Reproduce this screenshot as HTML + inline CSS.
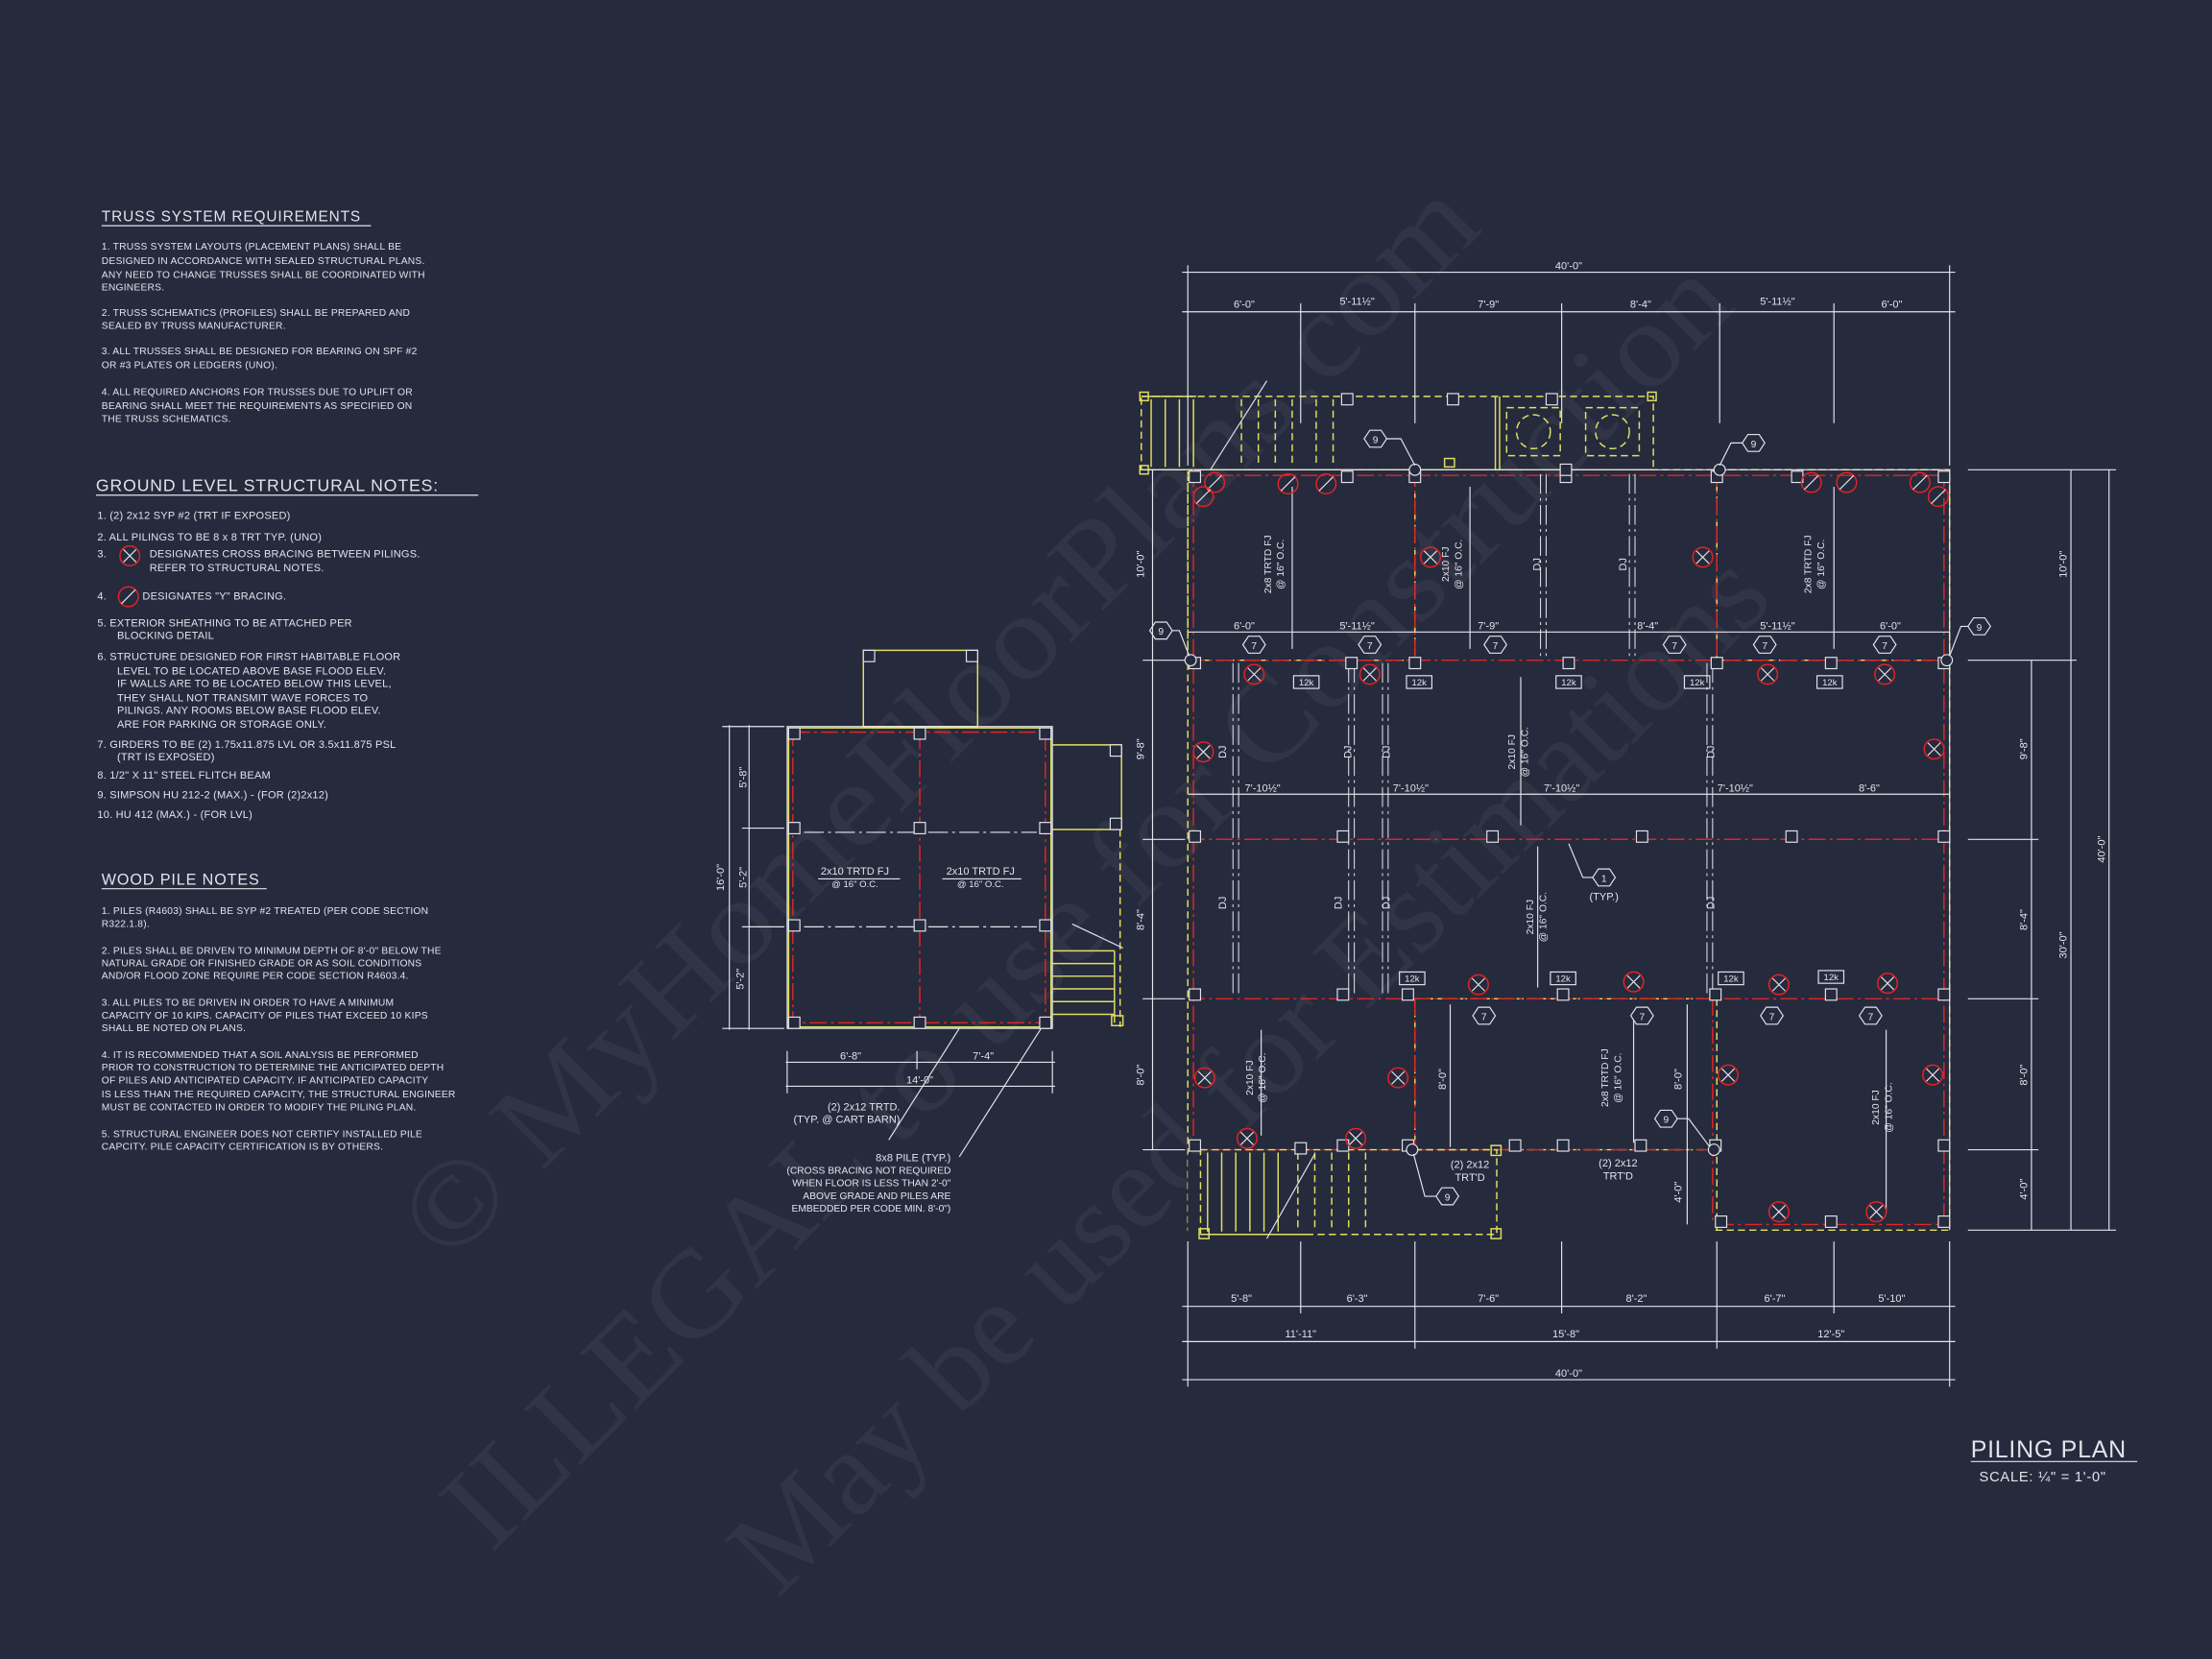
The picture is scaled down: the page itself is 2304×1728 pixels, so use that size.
<!DOCTYPE html>
<html><head><meta charset="utf-8"><style>
html,body{margin:0;padding:0;background:#262a3d;}
svg{display:block}
text{font-family:"Liberation Sans",sans-serif;fill:#e2e3ea;}
.n{font-size:7px;letter-spacing:0.15px}
.h{font-size:11.5px;letter-spacing:0.6px}
.d{font-size:7.5px}
.w{stroke:#e2e3ea;stroke-width:0.8;fill:none}
.wd{stroke:#e2e3ea;stroke-width:0.8;fill:none;stroke-dasharray:14 3 2 3}
.y{stroke:#e0e060;stroke-width:1;fill:none}
.yd{stroke:#e0e060;stroke-width:1;fill:none;stroke-dasharray:5 3}
.r{stroke:#e22424;stroke-width:1;fill:none;stroke-dasharray:12 3 2 3}
.wm{font-family:"Liberation Serif",serif;fill:#ffffff;fill-opacity:0.05;font-size:86px}
</style></head><body>
<svg width="2304" height="1728" viewBox="0 0 1568 1176" xmlns="http://www.w3.org/2000/svg">
<defs>
<rect id="p" x="-4" y="-4" width="8" height="8" fill="#262a3d" stroke="#e2e3ea" stroke-width="0.8"/>
<g id="x"><circle r="7" fill="none" stroke="#e22424" stroke-width="1"/><path d="M-4.5-4.5L4.5 4.5M4.5-4.5L-4.5 4.5" stroke="#e2e3ea" stroke-width="0.8"/></g>
<g id="s"><circle r="7" fill="none" stroke="#e22424" stroke-width="1"/><path d="M-5 5L5-5" stroke="#e2e3ea" stroke-width="0.8"/></g>
<polygon id="hx" points="-8,0 -4,-6 4,-6 8,0 4,6 -4,6" fill="#262a3d" stroke="#e2e3ea" stroke-width="0.8"/>
</defs>
<rect width="1568" height="1176" fill="#262a3d"/>
<!-- watermark -->
<text class="wm" transform="translate(685,530) rotate(-45)" text-anchor="middle" textLength="1040" lengthAdjust="spacingAndGlyphs">© MyHomeFloorPlans.com</text>
<text class="wm" transform="translate(790,660) rotate(-45)" text-anchor="middle" textLength="1250" lengthAdjust="spacingAndGlyphs">ILLEGAL to use for Construction</text>
<text class="wm" transform="translate(905,780) rotate(-45)" text-anchor="middle" textLength="1000" lengthAdjust="spacingAndGlyphs">May be used for Estimations</text>

<!-- LEFT NOTES -->
<text class="h" x="72" y="157" style="font-size:10.5px">TRUSS SYSTEM REQUIREMENTS</text>
<line class="w" x1="72" y1="160" x2="263" y2="160"/>
<g class="n">
<text x="72" y="177">1. TRUSS SYSTEM LAYOUTS (PLACEMENT PLANS) SHALL BE</text>
<text x="72" y="187">DESIGNED IN ACCORDANCE WITH SEALED STRUCTURAL PLANS.</text>
<text x="72" y="197">ANY NEED TO CHANGE TRUSSES SHALL BE COORDINATED WITH</text>
<text x="72" y="206">ENGINEERS.</text>
<text x="72" y="224">2. TRUSS SCHEMATICS (PROFILES) SHALL BE PREPARED AND</text>
<text x="72" y="233">SEALED BY TRUSS MANUFACTURER.</text>
<text x="72" y="251">3. ALL TRUSSES SHALL BE DESIGNED FOR BEARING ON SPF #2</text>
<text x="72" y="261">OR #3 PLATES OR LEDGERS (UNO).</text>
<text x="72" y="280">4. ALL REQUIRED ANCHORS FOR TRUSSES DUE TO UPLIFT OR</text>
<text x="72" y="290">BEARING SHALL MEET THE REQUIREMENTS AS SPECIFIED ON</text>
<text x="72" y="299">THE TRUSS SCHEMATICS.</text>
</g>
<text class="h" x="68" y="348" style="font-size:12px">GROUND LEVEL STRUCTURAL NOTES:</text>
<line class="w" x1="68" y1="351" x2="339" y2="351"/>
<g class="n" style="font-size:7.5px">
<text x="69" y="368">1.  (2) 2x12 SYP #2 (TRT IF EXPOSED)</text>
<text x="69" y="383">2.  ALL PILINGS TO BE 8 x 8 TRT TYP. (UNO)</text>
<text x="69" y="395">3.</text><use href="#x" x="92" y="394"/>
<text x="106" y="395">DESIGNATES CROSS BRACING BETWEEN PILINGS.</text>
<text x="106" y="405">REFER TO STRUCTURAL NOTES.</text>
<text x="69" y="425">4.</text><use href="#s" x="91" y="423"/>
<text x="101" y="425">DESIGNATES "Y" BRACING.</text>
<text x="69" y="444">5. EXTERIOR SHEATHING TO BE ATTACHED PER</text>
<text x="83" y="453">BLOCKING DETAIL</text>
<text x="69" y="468">6. STRUCTURE DESIGNED FOR FIRST HABITABLE FLOOR</text>
<text x="83" y="478">LEVEL TO BE LOCATED ABOVE BASE FLOOD ELEV.</text>
<text x="83" y="487">IF WALLS ARE TO BE LOCATED BELOW THIS LEVEL,</text>
<text x="83" y="497">THEY SHALL NOT TRANSMIT WAVE FORCES TO</text>
<text x="83" y="506">PILINGS.  ANY ROOMS BELOW BASE FLOOD ELEV.</text>
<text x="83" y="516">ARE FOR PARKING OR STORAGE ONLY.</text>
<text x="69" y="530">7. GIRDERS TO BE (2) 1.75x11.875 LVL OR 3.5x11.875 PSL</text>
<text x="83" y="539">(TRT IS EXPOSED)</text>
<text x="69" y="552">8. 1/2" X 11" STEEL FLITCH BEAM</text>
<text x="69" y="566">9. SIMPSON HU 212-2 (MAX.) - (FOR (2)2x12)</text>
<text x="69" y="580">10. HU 412 (MAX.) - (FOR LVL)</text>
</g>
<text class="h" x="72" y="627" style="font-size:11px">WOOD PILE NOTES</text>
<line class="w" x1="72" y1="630" x2="189" y2="630"/>
<g class="n">
<text x="72" y="648">1. PILES (R4603) SHALL BE SYP #2 TREATED (PER CODE SECTION</text>
<text x="72" y="657">R322.1.8).</text>
<text x="72" y="676">2. PILES SHALL BE DRIVEN TO MINIMUM DEPTH OF 8'-0" BELOW THE</text>
<text x="72" y="685">NATURAL GRADE OR FINISHED GRADE OR AS SOIL CONDITIONS</text>
<text x="72" y="694">AND/OR FLOOD ZONE REQUIRE PER CODE SECTION R4603.4.</text>
<text x="72" y="713">3. ALL PILES TO BE DRIVEN IN ORDER TO HAVE A MINIMUM</text>
<text x="72" y="722">CAPACITY OF 10 KIPS. CAPACITY OF PILES THAT EXCEED 10 KIPS</text>
<text x="72" y="731">SHALL BE NOTED ON PLANS.</text>
<text x="72" y="750">4. IT IS RECOMMENDED THAT A SOIL ANALYSIS BE PERFORMED</text>
<text x="72" y="759">PRIOR TO CONSTRUCTION TO DETERMINE THE ANTICIPATED DEPTH</text>
<text x="72" y="768">OF PILES AND ANTICIPATED CAPACITY. IF ANTICIPATED CAPACITY</text>
<text x="72" y="778">IS LESS THAN THE REQUIRED CAPACITY, THE STRUCTURAL ENGINEER</text>
<text x="72" y="787">MUST BE CONTACTED IN ORDER TO MODIFY THE PILING PLAN.</text>
<text x="72" y="806">5. STRUCTURAL ENGINEER DOES NOT CERTIFY INSTALLED PILE</text>
<text x="72" y="815">CAPCITY. PILE CAPACITY CERTIFICATION IS BY OTHERS.</text>
</g>

<!-- CART BARN -->
<rect class="y" x="612" y="461" width="81" height="54"/>
<use href="#p" x="616" y="465"/><use href="#p" x="689" y="465"/>
<rect class="w" x="558" y="515" width="188" height="214"/>
<rect class="y" x="559" y="516" width="186" height="212"/>
<rect class="r" x="562" y="519" width="179" height="206"/>
<line class="r" x1="652" y1="519" x2="652" y2="725"/>
<line class="wd" x1="570" y1="590" x2="735" y2="590"/>
<line class="wd" x1="570" y1="657" x2="735" y2="657"/>
<g><use href="#p" x="563" y="520"/><use href="#p" x="652" y="520"/><use href="#p" x="741" y="520"/>
<use href="#p" x="563" y="587"/><use href="#p" x="652" y="587"/><use href="#p" x="741" y="587"/>
<use href="#p" x="563" y="656"/><use href="#p" x="652" y="656"/><use href="#p" x="741" y="656"/>
<use href="#p" x="563" y="725"/><use href="#p" x="652" y="725"/><use href="#p" x="741" y="725"/></g>
<polyline class="y" points="746,528 795,528 795,588 746,588"/>
<use href="#p" x="791" y="532"/><use href="#p" x="791" y="584"/>
<line class="yd" x1="794" y1="588" x2="794" y2="728"/>
<g class="y"><line x1="746" y1="674" x2="790" y2="674"/><line x1="746" y1="683" x2="790" y2="683"/><line x1="746" y1="692" x2="790" y2="692"/><line x1="746" y1="701" x2="790" y2="701"/><line x1="746" y1="710" x2="790" y2="710"/><line x1="746" y1="719" x2="790" y2="719"/><line x1="790" y1="674" x2="790" y2="725"/></g>
<rect class="y" x="788" y="720" width="8" height="7"/>
<line class="w" x1="760" y1="655" x2="796" y2="672"/>
<g class="d"><text x="606" y="620" text-anchor="middle">2x10 TRTD FJ</text><text x="606" y="629" text-anchor="middle" style="font-size:6.5px">@ 16" O.C.</text>
<text x="695" y="620" text-anchor="middle">2x10 TRTD FJ</text><text x="695" y="629" text-anchor="middle" style="font-size:6.5px">@ 16" O.C.</text></g>
<line class="w" x1="580" y1="623" x2="638" y2="623"/><line class="w" x1="668" y1="623" x2="724" y2="623"/>
<g class="w"><line x1="557" y1="753" x2="748" y2="753"/><line x1="557" y1="770" x2="748" y2="770"/>
<line x1="558" y1="745" x2="558" y2="775"/><line x1="650" y1="745" x2="650" y2="758"/><line x1="746" y1="745" x2="746" y2="775"/>
<line x1="517" y1="514" x2="517" y2="730"/><line x1="531" y1="514" x2="531" y2="730"/>
<line x1="512" y1="515" x2="556" y2="515"/><line x1="526" y1="587" x2="556" y2="587"/><line x1="526" y1="657" x2="556" y2="657"/><line x1="512" y1="729" x2="556" y2="729"/>
<line x1="680" y1="729" x2="630" y2="808"/><line x1="738" y1="729" x2="680" y2="820"/></g>
<g class="d"><text x="603" y="751" text-anchor="middle">6'-8"</text><text x="697" y="751" text-anchor="middle">7'-4"</text><text x="652" y="768" text-anchor="middle">14'-0"</text>
<text transform="translate(513,622) rotate(-90)" text-anchor="middle">16'-0"</text>
<text transform="translate(529,551) rotate(-90)" text-anchor="middle">5'-8"</text>
<text transform="translate(529,622) rotate(-90)" text-anchor="middle">5'-2"</text>
<text transform="translate(527,694) rotate(-90)" text-anchor="middle">5'-2"</text>
<text x="638" y="787" text-anchor="end">(2) 2x12 TRTD.</text><text x="638" y="796" text-anchor="end">(TYP. @ CART BARN)</text>
<text x="674" y="823" text-anchor="end">8x8 PILE (TYP.)</text>
<text x="674" y="832" text-anchor="end" style="font-size:7px">(CROSS BRACING NOT REQUIRED</text>
<text x="674" y="841" text-anchor="end" style="font-size:7px">WHEN FLOOR IS LESS THAN 2'-0"</text>
<text x="674" y="850" text-anchor="end" style="font-size:7px">ABOVE GRADE AND PILES ARE</text>
<text x="674" y="859" text-anchor="end" style="font-size:7px">EMBEDDED PER CODE MIN. 8'-0")</text></g>

<!-- MAIN PLAN: top deck -->
<rect class="yd" x="809" y="281" width="363" height="52"/>
<g class="y"><line x1="809" y1="281" x2="848" y2="281"/><line x1="809" y1="333" x2="848" y2="333"/>
<line x1="816" y1="283" x2="816" y2="331"/><line x1="826" y1="283" x2="826" y2="331"/><line x1="836" y1="283" x2="836" y2="331"/><line x1="846" y1="283" x2="846" y2="331"/>
<line x1="1060" y1="281" x2="1060" y2="333"/><line x1="1063" y1="281" x2="1063" y2="333"/></g>
<g class="yd"><line x1="880" y1="283" x2="880" y2="331"/><line x1="892" y1="283" x2="892" y2="331"/><line x1="904" y1="283" x2="904" y2="331"/><line x1="916" y1="283" x2="916" y2="331"/><line x1="933" y1="283" x2="933" y2="331"/><line x1="945" y1="283" x2="945" y2="331"/>
<rect x="1068" y="289" width="38" height="34"/><circle cx="1087" cy="306" r="12"/>
<rect x="1124" y="289" width="38" height="34"/><circle cx="1143" cy="306" r="12"/></g>
<rect class="y" x="808" y="278" width="6" height="6"/><rect class="y" x="808" y="330" width="6" height="6"/><rect class="y" x="1168" y="278" width="6" height="6"/>
<rect class="y" x="1024" y="325" width="7" height="6"/>
<line class="w" x1="858" y1="333" x2="898" y2="270"/>

<g class="yd"><rect x="842" y="333" width="540" height="539"/><rect x="842" y="333" width="161" height="135"/><rect x="1217" y="333" width="165" height="135"/>
<line x1="1003" y1="708" x2="1003" y2="815"/><line x1="1217" y1="708" x2="1217" y2="872"/><line x1="1003" y1="815" x2="1217" y2="815"/><line x1="1003" y1="708" x2="1217" y2="708"/></g>
<rect x="1000" y="818" width="214" height="56" fill="#262a3d"/>
<rect x="842" y="818" width="158" height="56" fill="#262a3d"/>
<line class="w" x1="842" y1="333" x2="1382" y2="333"/><line class="w" x1="1382" y1="333" x2="1382" y2="872"/>
<g class="r"><line x1="842" y1="337" x2="1382" y2="337"/><line x1="842" y1="468" x2="1382" y2="468"/><line x1="842" y1="595" x2="1382" y2="595"/><line x1="842" y1="708" x2="1382" y2="708"/>
<line x1="842" y1="815" x2="1217" y2="815"/><line x1="1217" y1="868" x2="1382" y2="868"/>
<line x1="846" y1="333" x2="846" y2="815"/><line x1="1003" y1="333" x2="1003" y2="468"/><line x1="1217" y1="333" x2="1217" y2="468"/><line x1="1003" y1="708" x2="1003" y2="815"/><line x1="1214" y1="708" x2="1214" y2="868"/><line x1="1378" y1="333" x2="1378" y2="868"/></g>
<rect class="yd" x="851" y="815" width="210" height="60"/>
<g class="y"><line x1="851" y1="875" x2="930" y2="875"/><line x1="856" y1="817" x2="856" y2="873"/><line x1="866" y1="817" x2="866" y2="873"/><line x1="876" y1="817" x2="876" y2="873"/><line x1="886" y1="817" x2="886" y2="873"/><line x1="896" y1="817" x2="896" y2="873"/><line x1="906" y1="817" x2="906" y2="873"/></g>
<g class="yd"><line x1="920" y1="817" x2="920" y2="873"/><line x1="932" y1="817" x2="932" y2="873"/><line x1="944" y1="817" x2="944" y2="873"/><line x1="956" y1="817" x2="956" y2="873"/><line x1="968" y1="817" x2="968" y2="873"/></g>
<rect class="y" x="850" y="871" width="7" height="7"/><rect class="y" x="1057" y="871" width="7" height="7"/><rect class="y" x="1057" y="812" width="7" height="7"/>
<line class="w" x1="898" y1="878" x2="932" y2="818"/>

<g class="wd" style="stroke-width:0.7"><line x1="874" y1="470" x2="874" y2="706"/><line x1="878" y1="470" x2="878" y2="706"/>
<line x1="956" y1="470" x2="956" y2="706"/><line x1="960" y1="470" x2="960" y2="706"/><line x1="980" y1="470" x2="980" y2="706"/><line x1="984" y1="470" x2="984" y2="706"/>
<line x1="1210" y1="470" x2="1210" y2="706"/><line x1="1214" y1="470" x2="1214" y2="706"/>
<line x1="1092" y1="336" x2="1092" y2="466"/><line x1="1096" y1="336" x2="1096" y2="466"/><line x1="1155" y1="336" x2="1155" y2="466"/><line x1="1159" y1="336" x2="1159" y2="466"/></g>
<g class="d"><text transform="translate(869,640) rotate(-90)" text-anchor="middle">DJ</text><text transform="translate(951,640) rotate(-90)" text-anchor="middle">DJ</text><text transform="translate(985,640) rotate(-90)" text-anchor="middle">DJ</text><text transform="translate(1215,640) rotate(-90)" text-anchor="middle">DJ</text>
<text transform="translate(869,533) rotate(-90)" text-anchor="middle">DJ</text><text transform="translate(958,533) rotate(-90)" text-anchor="middle">DJ</text><text transform="translate(985,533) rotate(-90)" text-anchor="middle">DJ</text><text transform="translate(1215,533) rotate(-90)" text-anchor="middle">DJ</text>
<text transform="translate(1092,400) rotate(-90)" text-anchor="middle">DJ</text><text transform="translate(1153,400) rotate(-90)" text-anchor="middle">DJ</text></g>
<g class="w"><line x1="916" y1="345" x2="916" y2="460"/><line x1="1042" y1="345" x2="1042" y2="460"/><line x1="1300" y1="345" x2="1300" y2="460"/>
<line x1="1078" y1="480" x2="1078" y2="585"/><line x1="1090" y1="600" x2="1090" y2="700"/><line x1="894" y1="730" x2="894" y2="805"/><line x1="1158" y1="720" x2="1158" y2="810"/><line x1="1337" y1="730" x2="1337" y2="860"/></g>
<g class="d" style="font-size:7px">
<text transform="translate(901,400) rotate(-90)" text-anchor="middle">2x8 TRTD FJ</text><text transform="translate(910,400) rotate(-90)" text-anchor="middle">@ 16" O.C.</text>
<text transform="translate(1027,400) rotate(-90)" text-anchor="middle">2x10 FJ</text><text transform="translate(1036,400) rotate(-90)" text-anchor="middle">@ 16" O.C.</text>
<text transform="translate(1284,400) rotate(-90)" text-anchor="middle">2x8 TRTD FJ</text><text transform="translate(1293,400) rotate(-90)" text-anchor="middle">@ 16" O.C.</text>
<text transform="translate(1074,533) rotate(-90)" text-anchor="middle">2x10 FJ</text><text transform="translate(1083,533) rotate(-90)" text-anchor="middle">@ 16" O.C.</text>
<text transform="translate(1087,650) rotate(-90)" text-anchor="middle">2x10 FJ</text><text transform="translate(1096,650) rotate(-90)" text-anchor="middle">@ 16" O.C.</text>
<text transform="translate(888,764) rotate(-90)" text-anchor="middle">2x10 FJ</text><text transform="translate(897,764) rotate(-90)" text-anchor="middle">@ 16" O.C.</text>
<text transform="translate(1140,764) rotate(-90)" text-anchor="middle">2x8 TRTD FJ</text><text transform="translate(1149,764) rotate(-90)" text-anchor="middle">@ 16" O.C.</text>
<text transform="translate(1332,785) rotate(-90)" text-anchor="middle">2x10 FJ</text><text transform="translate(1341,785) rotate(-90)" text-anchor="middle">@ 16" O.C.</text>
</g>
<g class="w"><line x1="842" y1="448" x2="1382" y2="448"/><line x1="842" y1="563" x2="1382" y2="563"/>
<line x1="1028" y1="712" x2="1028" y2="813"/><line x1="1196" y1="712" x2="1196" y2="868"/></g>
<g class="d"><text x="882" y="446" text-anchor="middle">6'-0"</text><text x="962" y="446" text-anchor="middle">5'-11½"</text><text x="1055" y="446" text-anchor="middle">7'-9"</text><text x="1168" y="446" text-anchor="middle">8'-4"</text><text x="1260" y="446" text-anchor="middle">5'-11½"</text><text x="1340" y="446" text-anchor="middle">6'-0"</text>
<text x="895" y="561" text-anchor="middle">7'-10½"</text><text x="1000" y="561" text-anchor="middle">7'-10½"</text><text x="1107" y="561" text-anchor="middle">7'-10½"</text><text x="1230" y="561" text-anchor="middle">7'-10½"</text><text x="1325" y="561" text-anchor="middle">8'-6"</text>
<text transform="translate(1025,765) rotate(-90)" text-anchor="middle">8'-0"</text><text transform="translate(1192,765) rotate(-90)" text-anchor="middle">8'-0"</text><text transform="translate(1192,845) rotate(-90)" text-anchor="middle">4'-0"</text>
<text x="1147" y="827" text-anchor="middle">(2) 2x12</text><text x="1147" y="836" text-anchor="middle">TRT'D</text>
<text x="1042" y="828" text-anchor="middle">(2) 2x12</text><text x="1042" y="837" text-anchor="middle">TRT'D</text>
<text x="1137" y="638" text-anchor="middle">(TYP.)</text></g>

<g>
<use href="#p" x="847" y="338"/><use href="#p" x="955" y="338"/><use href="#p" x="1003" y="338"/><use href="#p" x="1110" y="338"/><use href="#p" x="1217" y="338"/><use href="#p" x="1274" y="338"/><use href="#p" x="1378" y="338"/>
<use href="#p" x="1100" y="283"/><use href="#p" x="955" y="283"/><use href="#p" x="1030" y="283"/><use href="#p" x="1110" y="333"/>
<use href="#p" x="847" y="470"/><use href="#p" x="958" y="470"/><use href="#p" x="1003" y="470"/><use href="#p" x="1112" y="470"/><use href="#p" x="1217" y="470"/><use href="#p" x="1298" y="470"/><use href="#p" x="1378" y="470"/>
<use href="#p" x="847" y="593"/><use href="#p" x="952" y="593"/><use href="#p" x="1058" y="593"/><use href="#p" x="1164" y="593"/><use href="#p" x="1270" y="593"/><use href="#p" x="1378" y="593"/>
<use href="#p" x="847" y="705"/><use href="#p" x="952" y="705"/><use href="#p" x="998" y="705"/><use href="#p" x="1108" y="705"/><use href="#p" x="1216" y="705"/><use href="#p" x="1298" y="705"/><use href="#p" x="1378" y="705"/>
<use href="#p" x="847" y="812"/><use href="#p" x="952" y="812"/><use href="#p" x="998" y="812"/><use href="#p" x="1108" y="812"/><use href="#p" x="1216" y="812"/><use href="#p" x="1378" y="812"/>
<use href="#p" x="1220" y="866"/><use href="#p" x="1298" y="866"/><use href="#p" x="1378" y="866"/><use href="#p" x="922" y="814"/><use href="#p" x="1074" y="812"/><use href="#p" x="1163" y="812"/>
</g>
<g fill="#262a3d" stroke="#e2e3ea" stroke-width="0.8"><circle cx="844" cy="468" r="4"/><circle cx="1003" cy="333" r="4"/><circle cx="1219" cy="333" r="4"/><circle cx="1380" cy="468" r="4"/><circle cx="1001" cy="815" r="4"/><circle cx="1215" cy="815" r="4"/></g>
<g>
<use href="#x" x="853" y="533"/><use href="#x" x="1371" y="531"/><use href="#x" x="889" y="478"/><use href="#x" x="971" y="478"/><use href="#x" x="1253" y="478"/><use href="#x" x="1336" y="478"/>
<use href="#x" x="1014" y="395"/><use href="#x" x="1207" y="395"/><use href="#x" x="1048" y="698"/><use href="#x" x="1158" y="696"/><use href="#x" x="1261" y="698"/><use href="#x" x="1338" y="697"/>
<use href="#x" x="854" y="764"/><use href="#x" x="991" y="764"/><use href="#x" x="884" y="807"/><use href="#x" x="961" y="807"/><use href="#x" x="1225" y="762"/><use href="#x" x="1370" y="762"/><use href="#x" x="1261" y="859"/><use href="#x" x="1330" y="859"/>
<use href="#s" x="861" y="342"/><use href="#s" x="853" y="352"/><use href="#s" x="913" y="343"/><use href="#s" x="940" y="343"/><use href="#s" x="1284" y="342"/><use href="#s" x="1309" y="342"/><use href="#s" x="1361" y="342"/><use href="#s" x="1374" y="352"/>
</g>
<g class="d" text-anchor="middle" style="font-size:7px">
<use href="#hx" x="889" y="457"/><text x="889" y="460">7</text><use href="#hx" x="971" y="457"/><text x="971" y="460">7</text><use href="#hx" x="1060" y="457"/><text x="1060" y="460">7</text>
<use href="#hx" x="1187" y="457"/><text x="1187" y="460">7</text><use href="#hx" x="1251" y="457"/><text x="1251" y="460">7</text><use href="#hx" x="1336" y="457"/><text x="1336" y="460">7</text>
<use href="#hx" x="1052" y="720"/><text x="1052" y="723">7</text><use href="#hx" x="1164" y="720"/><text x="1164" y="723">7</text><use href="#hx" x="1256" y="720"/><text x="1256" y="723">7</text><use href="#hx" x="1326" y="720"/><text x="1326" y="723">7</text>
<use href="#hx" x="975" y="311"/><text x="975" y="314">9</text><use href="#hx" x="1243" y="314"/><text x="1243" y="317">9</text><use href="#hx" x="823" y="447"/><text x="823" y="450">9</text><use href="#hx" x="1403" y="444"/><text x="1403" y="447">9</text><use href="#hx" x="1181" y="793"/><text x="1181" y="796">9</text><use href="#hx" x="1026" y="848"/><text x="1026" y="851">9</text>
<use href="#hx" x="1137" y="622"/><text x="1137" y="625">1</text>
</g>
<g class="w"><polyline points="983,311 993,311 1003,330"/><polyline points="1235,314 1227,314 1219,330"/><polyline points="831,447 836,447 843,465"/><polyline points="1395,444 1390,444 1382,465"/><polyline points="1189,793 1197,793 1212,813"/><polyline points="1018,848 1010,848 1002,818"/><polyline points="1129,622 1122,622 1112,598"/></g>
<g class="d" style="font-size:6.5px" text-anchor="middle">
<rect class="w" x="917" y="479" width="18" height="9"/><text x="926" y="486">12k</text>
<rect class="w" x="997" y="479" width="18" height="9"/><text x="1006" y="486">12k</text>
<rect class="w" x="1103" y="479" width="18" height="9"/><text x="1112" y="486">12k</text>
<rect class="w" x="1194" y="479" width="18" height="9"/><text x="1203" y="486">12k</text>
<rect class="w" x="1288" y="479" width="18" height="9"/><text x="1297" y="486">12k</text>
<rect class="w" x="992" y="689" width="18" height="9"/><text x="1001" y="696">12k</text>
<rect class="w" x="1099" y="689" width="18" height="9"/><text x="1108" y="696">12k</text>
<rect class="w" x="1218" y="689" width="18" height="9"/><text x="1227" y="696">12k</text>
<rect class="w" x="1289" y="688" width="18" height="9"/><text x="1298" y="695">12k</text>
</g>

<g class="w">
<line x1="838" y1="193" x2="1386" y2="193"/><line x1="838" y1="221" x2="1386" y2="221"/>
<line x1="842" y1="188" x2="842" y2="330"/><line x1="1382" y1="188" x2="1382" y2="330"/>
<line x1="922" y1="215" x2="922" y2="300"/><line x1="1003" y1="215" x2="1003" y2="300"/><line x1="1107" y1="215" x2="1107" y2="300"/><line x1="1219" y1="215" x2="1219" y2="300"/><line x1="1300" y1="215" x2="1300" y2="300"/>
<line x1="838" y1="926" x2="1386" y2="926"/><line x1="838" y1="951" x2="1386" y2="951"/><line x1="838" y1="978" x2="1386" y2="978"/>
<line x1="842" y1="880" x2="842" y2="983"/><line x1="1382" y1="880" x2="1382" y2="983"/><line x1="1003" y1="880" x2="1003" y2="956"/><line x1="1217" y1="880" x2="1217" y2="956"/>
<line x1="922" y1="880" x2="922" y2="931"/><line x1="1107" y1="880" x2="1107" y2="931"/><line x1="1300" y1="880" x2="1300" y2="931"/>
<line x1="817" y1="333" x2="817" y2="815"/><line x1="810" y1="333" x2="840" y2="333"/><line x1="810" y1="468" x2="840" y2="468"/><line x1="810" y1="595" x2="840" y2="595"/><line x1="810" y1="708" x2="840" y2="708"/><line x1="810" y1="815" x2="840" y2="815"/>
<line x1="1440" y1="468" x2="1440" y2="872"/><line x1="1468" y1="333" x2="1468" y2="872"/><line x1="1495" y1="333" x2="1495" y2="872"/>
<line x1="1395" y1="333" x2="1500" y2="333"/><line x1="1395" y1="468" x2="1472" y2="468"/><line x1="1395" y1="595" x2="1445" y2="595"/><line x1="1395" y1="708" x2="1445" y2="708"/><line x1="1395" y1="815" x2="1445" y2="815"/><line x1="1395" y1="872" x2="1500" y2="872"/>
</g>
<g class="d" text-anchor="middle">
<text x="1112" y="191">40'-0"</text>
<text x="882" y="218">6'-0"</text><text x="962" y="216">5'-11½"</text><text x="1055" y="218">7'-9"</text><text x="1163" y="218">8'-4"</text><text x="1260" y="216">5'-11½"</text><text x="1341" y="218">6'-0"</text>
<text x="880" y="923">5'-8"</text><text x="962" y="923">6'-3"</text><text x="1055" y="923">7'-6"</text><text x="1160" y="923">8'-2"</text><text x="1258" y="923">6'-7"</text><text x="1341" y="923">5'-10"</text>
<text x="922" y="948">11'-11"</text><text x="1110" y="948">15'-8"</text><text x="1298" y="948">12'-5"</text><text x="1112" y="976">40'-0"</text>
<text transform="translate(811,400) rotate(-90)">10'-0"</text><text transform="translate(811,531) rotate(-90)">9'-8"</text><text transform="translate(811,652) rotate(-90)">8'-4"</text><text transform="translate(811,762) rotate(-90)">8'-0"</text>
<text transform="translate(1437,531) rotate(-90)">9'-8"</text><text transform="translate(1437,652) rotate(-90)">8'-4"</text><text transform="translate(1437,762) rotate(-90)">8'-0"</text><text transform="translate(1437,843) rotate(-90)">4'-0"</text>
<text transform="translate(1465,400) rotate(-90)">10'-0"</text><text transform="translate(1465,670) rotate(-90)">30'-0"</text><text transform="translate(1492,602) rotate(-90)">40'-0"</text>
</g>

<text x="1397" y="1033" style="font-size:17px;letter-spacing:0.5px">PILING PLAN</text>
<line class="w" x1="1397" y1="1036" x2="1515" y2="1036"/>
<text x="1403" y="1050" style="font-size:10px;letter-spacing:0.5px">SCALE: ¼" = 1'-0"</text>
</svg>
</body></html>
